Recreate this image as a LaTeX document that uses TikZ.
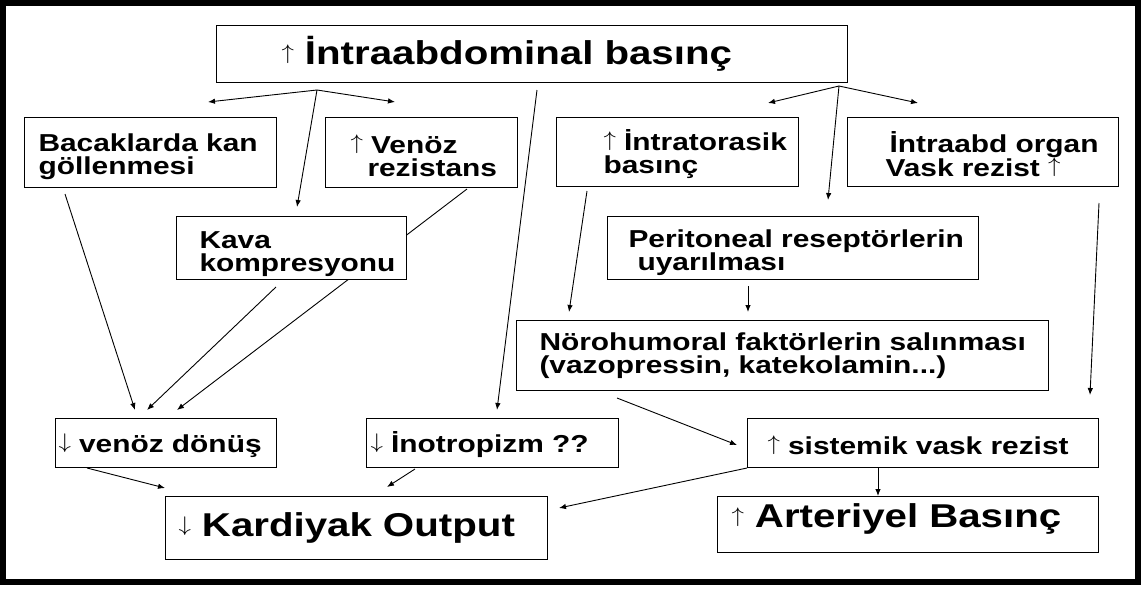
\documentclass[tikz,border=0pt]{standalone}
\usepackage{fontspec}
\usepackage{graphicx}
\setmainfont{Liberation Sans}[FakeStretch=1.22]
\newcommand\uarr{\raisebox{0.165em}{\scalebox{1}[0.85]{$\uparrow$}}}
\newcommand\darr{\raisebox{0.165em}{\scalebox{1}[0.85]{$\downarrow$}}}
\newcommand\tstrut[1]{\rule{0pt}{#1}}
\usetikzlibrary{arrows.meta,calc}
\pgfdeclarelayer{bg}
\pgfsetlayers{bg,main}
\tikzset{
  box/.style={draw, line width=1pt, fill=white, anchor=north west, inner ysep=0pt,
    align=left, font=\bfseries\fontsize{24.5}{23}\selectfont},
  big/.style={font=\bfseries\fontsize{33}{36}\selectfont},
  arr/.style={-{Latex[length=7pt,width=5.5pt]}, line width=0.9pt},
  frame/.style={line width=6pt},
}
\begin{document}
\begin{tikzpicture}[x=1pt,y=-1pt]
\useasboundingbox (0,0) rectangle (1144,590);

\node[box, big, minimum width=631pt, minimum height=57pt, text width=501pt, inner xsep=65pt] (top) at (216,25) {\mbox{\uarr{} İntraabdominal basınç}};
\node[box, minimum width=252pt, minimum height=70pt, text width=224pt, inner xsep=14pt] (bac) at (24,117) {\mbox{\tstrut{26pt}Bacaklarda kan}\\\mbox{göllenmesi}};
\node[box, minimum width=192pt, minimum height=70pt, text width=142pt, inner xsep=25pt] (ven) at (325,117) {\mbox{\tstrut{26pt}\uarr{} Venöz}\\\mbox{\hspace*{17pt}rezistans}};
\node[box, minimum width=242pt, minimum height=69pt, text width=148pt, inner xsep=47pt] (ito) at (556,117) {\mbox{\tstrut{26pt}\uarr{} İntratorasik}\\\mbox{basınç}};
\node[box, font=\bfseries\fontsize{24.5}{24}\selectfont, minimum width=271pt, minimum height=69pt, text width=195pt, inner xsep=38pt] (iab) at (847,117) {\mbox{\tstrut{25pt}\hspace*{4pt}İntraabd organ}\\\mbox{Vask rezist \uarr}};
\node[box, minimum width=230pt, minimum height=63pt, text width=184pt, inner xsep=23pt] (kava) at (176,216) {\mbox{\tstrut{29pt}Kava}\\\mbox{kompresyonu}};
\node[box, minimum width=371pt, minimum height=63pt, text width=329pt, inner xsep=21pt] (peri) at (607,216) {\mbox{\tstrut{27pt}Peritoneal reseptörlerin}\\\mbox{\hspace*{9pt}uyarılması}};
\node[box, minimum width=532pt, minimum height=70pt, text width=486pt, inner xsep=23pt] (noro) at (516,320) {\mbox{Nörohumoral faktörlerin salınması}\\\mbox{(vazopressin, katekolamin...)}};
\node[box, minimum width=221pt, minimum height=49pt, text width=215pt, inner xsep=3pt] (vd) at (55,418) {\mbox{\tstrut{24pt}\darr{} venöz dönüş}};
\node[box, minimum width=252pt, minimum height=49pt, text width=244pt, inner xsep=4pt] (ino) at (366,418) {\mbox{\tstrut{24pt}\darr{} İnotropizm ??}};
\node[box, minimum width=351pt, minimum height=49pt, text width=311pt, inner xsep=20pt] (sis) at (747,418) {\mbox{\tstrut{24pt}\uarr{} sistemik vask rezist}};
\node[box, big, minimum width=382pt, minimum height=63pt, text width=356pt, inner xsep=13pt] (kar) at (165,496) {\mbox{\darr{} Kardiyak Output}};
\node[box, big, minimum width=381pt, minimum height=56pt, text width=353pt, inner xsep=14pt] (art) at (717,496) {\mbox{\rule[-17pt]{0pt}{1pt}\uarr{} Arteriyel Basınç}};

\draw[frame] (3,3) rectangle (1138,582);

\begin{pgfonlayer}{bg}
\fill[white] (0,0) rectangle (1144,590);
\coordinate (fA) at ([xshift=101pt,yshift=-7pt]top.south west);
\coordinate (fAl) at (208,102);
\coordinate (fAr) at (395,102);
\coordinate (fB) at ([xshift=-9pt,yshift=-3pt]top.south east);
\coordinate (fBl) at (768,103);
\coordinate (fBr) at (918,103);
\draw[arr] (fA) -- (fAl);
\draw[arr] (fA) -- (fAr);
\draw[arr] (fA) -- ([xshift=121pt,yshift=9pt]kava.north west);
\draw[arr] ([xshift=321pt,yshift=-7pt]top.south west) -- ([xshift=131pt,yshift=8pt]ino.north west);
\draw[arr] (fB) -- (fBl);
\draw[arr] (fB) -- (fBr);
\draw[arr] (fB) -- ([xshift=221pt,yshift=16pt]peri.north west);
\draw[arr] ([xshift=31pt,yshift=-4pt]ito.south west) -- ([xshift=53pt,yshift=8pt]noro.north west);
\draw[arr] ([xshift=141pt,yshift=-6pt]peri.south west) -- ([xshift=232pt,yshift=8pt]noro.north west);
\draw[arr] ([xshift=252pt,yshift=-16pt]iab.south west) -- ([xshift=-9pt,yshift=23pt]sis.north east);
\draw[arr] ([xshift=101pt,yshift=-7pt]noro.south west) -- ([xshift=-10pt,yshift=-27pt]sis.north west);
\draw[arr] (sis.south west) -- ([xshift=11pt,yshift=-12pt]kar.north east);
\draw[arr] ([xshift=131pt]sis.south west) -- ([xshift=161pt]art.north west);
\draw[arr] ([xshift=32pt]vd.south west) -- ([yshift=8pt]kar.north west);
\draw[arr] ([xshift=49pt,yshift=-1pt]ino.south west) -- ([xshift=222pt,yshift=9pt]kar.north west);
\draw[arr] ([xshift=41pt,yshift=-6pt]bac.south west) -- ([xshift=80pt,yshift=8pt]vd.north west);
\draw[arr] ([xshift=100pt,yshift=-7pt]kava.south west) -- ([xshift=92pt,yshift=8pt]vd.north west);
\draw[arr] ([xshift=142pt,yshift=-1pt]ven.south west) -- ([xshift=122pt,yshift=8pt]vd.north west);
\end{pgfonlayer}
\end{tikzpicture}
\end{document}
